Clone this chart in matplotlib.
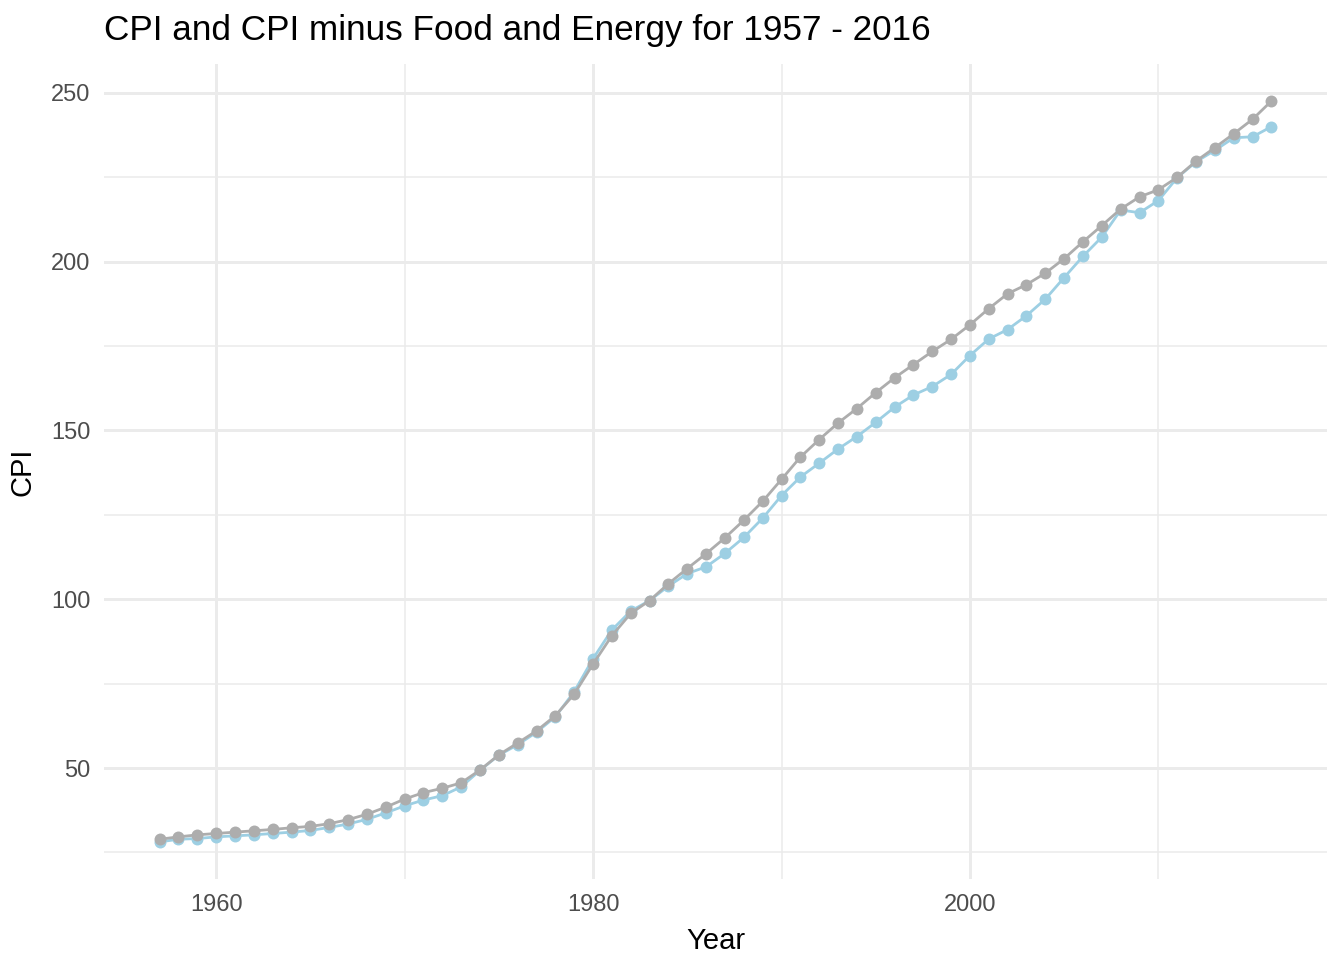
import numpy as np
import matplotlib
matplotlib.use("Agg")
import matplotlib.pyplot as plt
from matplotlib.ticker import MultipleLocator

years = list(range(1957, 2017))

# CPI (all items)
cpi = [28.1, 28.9, 29.1, 29.6, 29.9, 30.2, 30.6, 31.0, 31.5, 32.4,
       33.4, 34.8, 36.7, 38.8, 40.5, 41.8, 44.4, 49.3, 53.8, 56.9,
       60.6, 65.2, 72.6, 82.4, 90.9, 96.5, 99.6, 103.9, 107.6, 109.6,
       113.6, 118.3, 124.0, 130.7, 136.2, 140.3, 144.5, 148.2, 152.4, 156.9,
       160.5, 163.0, 166.6, 172.2, 177.1, 179.9, 184.0, 188.9, 195.3, 201.6,
       207.3, 215.3, 214.5, 218.1, 224.9, 229.6, 233.0, 236.7, 237.0, 240.0]

# CPI minus food and energy
core = [28.9, 29.6, 30.2, 30.6, 31.0, 31.4, 31.8, 32.3, 32.7, 33.5,
        34.7, 36.3, 38.4, 40.8, 42.7, 44.0, 45.6, 49.4, 53.9, 57.4,
        61.0, 65.5, 71.9, 80.8, 89.2, 95.8, 99.6, 104.6, 109.1, 113.5,
        118.2, 123.4, 129.0, 135.5, 142.1, 147.3, 152.2, 156.5, 161.2, 165.6,
        169.5, 173.4, 177.0, 181.3, 186.1, 190.5, 193.2, 196.6, 200.9, 205.9,
        210.7, 215.6, 219.2, 221.3, 225.0, 229.8, 233.8, 237.9, 242.2, 247.6]

plt.rcParams['font.family'] = ['Liberation Sans', 'DejaVu Sans']

fig = plt.figure(figsize=(13.44, 9.6), dpi=100)
ax = fig.add_axes([0.0774, 0.0844, 0.91, 0.849])

blue = "#9DCFE3"
gray = "#ADADAD"
ax.plot(years, cpi, color=blue, lw=2.0, marker="o", ms=8.6, mec="none", zorder=3)
ax.plot(years, core, color=gray, lw=2.0, marker="o", ms=8.6, mec="none", zorder=4)

# ggplot-style 5% expansion
x0, x1 = min(years), max(years)
xr = x1 - x0
ax.set_xlim(x0 - 0.05 * xr, x1 + 0.05 * xr)
y0, y1 = min(cpi + core), max(cpi + core)
yr = y1 - y0
ax.set_ylim(y0 - 0.05 * yr, y1 + 0.05 * yr)

ax.set_xticks([1960, 1980, 2000])
ax.xaxis.set_minor_locator(MultipleLocator(10))
ax.set_yticks([50, 100, 150, 200, 250])
ax.yaxis.set_minor_locator(MultipleLocator(25))

ax.grid(which="major", color="#EBEBEB", lw=2.1)
ax.grid(which="minor", color="#EBEBEB", lw=1.1)
ax.set_axisbelow(True)
for s in ax.spines.values():
    s.set_visible(False)
ax.tick_params(which="both", length=0)
ax.tick_params(axis="both", labelsize=17, labelcolor="#4D4D4D")
ax.tick_params(axis="x", pad=11)
ax.tick_params(axis="y", pad=10)

ax.set_xlabel("Year", fontsize=21, labelpad=8)
ax.set_ylabel("CPI", fontsize=21, labelpad=10)
ax.set_title("CPI and CPI minus Food and Energy for 1957 - 2016", fontsize=25.3,
             loc="left", pad=17)

fig.savefig("out.png", dpi=100)
